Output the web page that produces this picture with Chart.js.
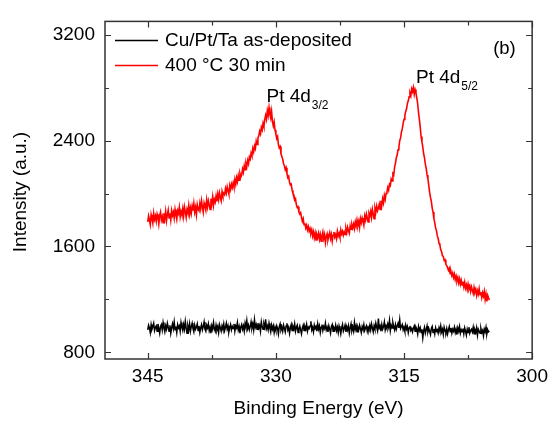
<!DOCTYPE html>
<html>
<head>
<meta charset="utf-8">
<script src="https://cdn.jsdelivr.net/npm/chart.js@4.4.1/dist/chart.umd.min.js"></script>
<style>
  html, body { margin: 0; padding: 0; background: #fff; }
  canvas { display: block; }
</style>
</head>
<body>
<canvas id="xps" width="554" height="423"></canvas>
<script>
// Pt 4d region, sampled every 0.1 eV from 345 eV down to 305 eV
const energyStart = 345;
const energyStep = 0.1;

// Cu/Pt/Ta as-deposited (counts), one row per eV
const asDeposited = [
  970, 1005, 985, 950, 1010, 975, 995, 1020, 965, 990,
  1000, 960, 1015, 980, 945, 995, 1010, 970, 1025, 985,
  955, 1000, 975, 1020, 990, 960, 1005, 945, 985, 1015,
  980, 1030, 970, 995, 950, 1010, 985, 1000, 960, 1025,
  990, 965, 1010, 975, 1035, 985, 945, 1000, 970, 1015,
  960, 995, 1020, 980, 955, 1005, 975, 990, 1015, 965,
  1000, 950, 985, 1010, 970, 995, 1030, 975, 960, 1005,
  985, 1015, 965, 990, 945, 1000, 975, 1025, 980, 960,
  1005, 970, 995, 950, 1010, 985, 960, 1000, 975, 1015,
  965, 990, 1020, 975, 1000, 955, 985, 1010, 970, 995,
  980, 1015, 960, 1000, 985, 1025, 970, 995, 945, 990,
  1010, 975, 1000, 960, 1020, 990, 1040, 980, 1005, 970,
  995, 1030, 985, 1015, 970, 1045, 990, 1010, 975, 1020,
  985, 1005, 960, 1030, 995, 975, 1015, 990, 1050, 980,
  1000, 970, 1020, 985, 955, 1005, 975, 1000, 950, 990,
  965, 1000, 980, 940, 995, 1015, 970, 990, 960, 1005,
  980, 955, 1000, 1020, 970, 990, 945, 985, 1010, 965,
  995, 975, 1015, 960, 990, 1005, 950, 980, 1000, 970,
  940, 985, 1005, 965, 995, 975, 1010, 960, 990, 980,
  1000, 1035, 970, 990, 955, 1005, 980, 995, 960, 1015,
  975, 1000, 950, 990, 1010, 965, 995, 980, 1020, 970,
  990, 955, 1000, 975, 945, 995, 1010, 960, 985, 970,
  1005, 965, 990, 950, 1000, 975, 940, 985, 1010, 960,
  980, 1005, 955, 995, 970, 1000, 945, 985, 1015, 965,
  990, 960, 1025, 975, 1000, 955, 990, 970, 1005, 980,
  950, 995, 975, 1010, 965, 985, 1000, 960, 990, 975,
  1005, 970, 1015, 985, 955, 1000, 975, 1020, 990, 965,
  1055, 985, 1000, 960, 1010, 975, 995, 1030, 970, 1000,
  980, 1015, 990, 1040, 965, 1005, 985, 1025, 995, 970,
  1010, 975, 1000, 1020, 985, 1045, 980, 995, 1010, 970,
  990, 960, 1005, 975, 995, 950, 985, 1000, 965, 980,
  955, 985, 1000, 960, 990, 975, 940, 995, 965, 985,
  950, 975, 910, 965, 990, 945, 970, 1000, 955, 980,
  960, 935, 980, 995, 950, 975, 940, 985, 960, 970,
  945, 985, 960, 1000, 955, 975, 935, 990, 965, 950,
  980, 940, 970, 995, 955, 985, 945, 975, 960, 990,
  950, 975, 935, 985, 960, 995, 945, 970, 955, 980,
  940, 985, 960, 930, 975, 950, 990, 945, 965, 975,
  955, 990, 940, 970, 950, 985, 930, 975, 960, 945,
  980, 950, 965, 925, 975, 955, 990, 940, 970, 955,
  960
];

// Annealed at 400 °C for 30 min (counts), one row per eV
const annealed = [
  1785, 1830, 1800, 1765, 1840, 1810, 1775, 1850, 1805, 1830,
  1790, 1845, 1820, 1770, 1835, 1860, 1800, 1825, 1780, 1850,
  1810, 1865, 1795, 1840, 1875, 1815, 1850, 1800, 1870, 1835,
  1860, 1815, 1880, 1840, 1805, 1870, 1850, 1895, 1825, 1865,
  1840, 1885, 1830, 1900, 1865, 1820, 1880, 1855, 1910, 1845,
  1890, 1850, 1905, 1870, 1925, 1860, 1895, 1840, 1915, 1880,
  1870, 1925, 1885, 1945, 1900, 1860, 1930, 1905, 1875, 1950,
  1900, 1945, 1915, 1880, 1960, 1925, 1975, 1910, 1955, 1935,
  1980, 1940, 1995, 1955, 2005, 1970, 1945, 2015, 1985, 2000,
  1990, 2035, 2005, 2050, 2020, 1995, 2060, 2030, 2070, 2045,
  2080, 2050, 2105, 2070, 2120, 2090, 2135, 2100, 2150, 2125,
  2140, 2185, 2160, 2210, 2180, 2230, 2205, 2250, 2225, 2275,
  2260, 2305, 2285, 2340, 2315, 2360, 2340, 2395, 2370, 2420,
  2435, 2470, 2450, 2500, 2480, 2530, 2505, 2560, 2590, 2560,
  2625, 2590, 2650, 2600, 2570, 2620, 2545, 2510, 2540, 2480,
  2450, 2415, 2430, 2370, 2345, 2355, 2300, 2280, 2260, 2225,
  2210, 2180, 2195, 2150, 2120, 2130, 2085, 2065, 2070, 2025,
  2000, 1990, 1950, 1960, 1915, 1895, 1900, 1860, 1845, 1855,
  1820, 1790, 1810, 1765, 1775, 1740, 1760, 1725, 1750, 1715,
  1735, 1700, 1725, 1680, 1710, 1665, 1700, 1650, 1690, 1670,
  1700, 1655, 1690, 1640, 1680, 1710, 1660, 1690, 1630, 1675,
  1695, 1650, 1680, 1705, 1660, 1690, 1640, 1685, 1710, 1670,
  1690, 1660, 1715, 1680, 1700, 1670, 1725, 1695, 1715, 1685,
  1710, 1690, 1735, 1705, 1745, 1720, 1700, 1755, 1730, 1765,
  1740, 1770, 1735, 1785, 1755, 1800, 1760, 1790, 1745, 1810,
  1780, 1815, 1790, 1760, 1830, 1800, 1845, 1815, 1785, 1850,
  1830, 1865, 1820, 1880, 1845, 1810, 1890, 1860, 1905, 1870,
  1890, 1920, 1880, 1945, 1910, 1960, 1930, 1985, 1955, 2000,
  2010, 2045, 2025, 2070, 2060, 2110, 2095, 2150, 2140, 2200,
  2230, 2270, 2290, 2330, 2350, 2400, 2420, 2465, 2490, 2530,
  2560, 2590, 2620, 2640, 2680, 2700, 2730, 2760, 2740, 2790,
  2770, 2800, 2750, 2785, 2760, 2720, 2680, 2610, 2560, 2500,
  2430, 2390, 2350, 2300, 2270, 2220, 2190, 2140, 2110, 2060,
  2010, 1970, 1940, 1890, 1860, 1810, 1780, 1740, 1720, 1680,
  1660, 1625, 1610, 1575, 1560, 1530, 1525, 1495, 1500, 1465,
  1455, 1440, 1420, 1435, 1395, 1410, 1380, 1400, 1365, 1390,
  1350, 1375, 1340, 1365, 1325, 1355, 1315, 1345, 1310, 1335,
  1295, 1330, 1285, 1310, 1275, 1315, 1280, 1300, 1260, 1295,
  1270, 1245, 1290, 1255, 1275, 1230, 1265, 1240, 1280, 1235,
  1255, 1215, 1250, 1225, 1260, 1200, 1240, 1185, 1230, 1210,
  1195
];

const xTicks = [345, 330, 315, 300];
const xMinorTicks = [337.5, 322.5, 307.5];
const yTicks = [800, 1600, 2400, 3200];
const yMinorTicks = [1200, 2000, 2800];

// Peak labels: [main text, subscript, energy, intensity] at the label baseline start
const peakLabels = [
  ['Pt 4d', '3/2', 331.1, 2690],
  ['Pt 4d', '5/2', 313.6, 2835]
];

const seriesNames = ['Cu/Pt/Ta as-deposited', '400 \u00B0C 30 min'];
const seriesColors = ['#000000', '#ff0000'];
const xTitle = 'Binding Energy (eV)';
const yTitle = 'Intensity (a.u.)';
const panelTag = '(b)';

const toPoints = arr => arr.map((v, i) => ({
  x: Math.round((energyStart - i * energyStep) * 10) / 10,
  y: v
}));

const FONT = '"Liberation Sans", Arial, sans-serif';

// Frame, inward tick marks, axis titles, legend, peak labels and panel tag
const decorations = {
  id: 'decorations',
  afterDatasetsDraw(chart) {
    const { ctx, chartArea: a, scales } = chart;
    const xs = scales.x, ys = scales.y;
    ctx.save();
    ctx.strokeStyle = '#333';
    ctx.lineWidth = 1.5;
    ctx.strokeRect(a.left, a.top, a.right - a.left, a.bottom - a.top);

    ctx.lineWidth = 1.2;
    const tickX = (v, len) => {
      const px = Math.round(xs.getPixelForValue(v)) + 0.5;
      ctx.beginPath();
      ctx.moveTo(px, a.bottom); ctx.lineTo(px, a.bottom - len);
      ctx.moveTo(px, a.top); ctx.lineTo(px, a.top + len);
      ctx.stroke();
    };
    const tickY = (v, len) => {
      const py = Math.round(ys.getPixelForValue(v)) + 0.5;
      ctx.beginPath();
      ctx.moveTo(a.left, py); ctx.lineTo(a.left + len, py);
      ctx.moveTo(a.right, py); ctx.lineTo(a.right - len, py);
      ctx.stroke();
    };
    xTicks.forEach(v => tickX(v, 6));
    xMinorTicks.forEach(v => tickX(v, 4));
    yTicks.forEach(v => tickY(v, 6));
    yMinorTicks.forEach(v => tickY(v, 4));

    ctx.fillStyle = '#000';
    ctx.font = '19px ' + FONT;
    ctx.textBaseline = 'middle';

    // axis titles
    ctx.textAlign = 'center';
    ctx.fillText(xTitle, (a.left + a.right) / 2, 409);
    ctx.save();
    ctx.translate(21, 192);
    ctx.rotate(-Math.PI / 2);
    ctx.fillText(yTitle, 0, 0);
    ctx.restore();
    ctx.textAlign = 'left';

    // legend
    chart.data.datasets.forEach((ds, i) => {
      const y = a.top + 19 + i * 25;
      ctx.strokeStyle = ds.borderColor;
      ctx.lineWidth = 1.5;
      ctx.beginPath();
      ctx.moveTo(a.left + 10, y); ctx.lineTo(a.left + 53, y);
      ctx.stroke();
      ctx.fillText(ds.label, a.left + 60, y);
    });

    // panel tag
    ctx.font = '18.5px ' + FONT;
    ctx.fillText(panelTag, a.right - 39, a.top + 28);

    // peak labels
    ctx.textBaseline = 'alphabetic';
    peakLabels.forEach(([main, sub, e, v]) => {
      const px = xs.getPixelForValue(e);
      const py = ys.getPixelForValue(v);
      ctx.font = '19px ' + FONT;
      ctx.fillText(main, px, py);
      const w = ctx.measureText(main).width;
      ctx.font = '12px ' + FONT;
      ctx.fillText(sub, px + w + 1, py + 7);
    });
    ctx.restore();
  }
};

new Chart(document.getElementById('xps'), {
  type: 'line',
  data: {
    datasets: [
      {
        label: seriesNames[0],
        data: toPoints(asDeposited),
        borderColor: seriesColors[0],
        borderWidth: 1.5,
        pointRadius: 0,
        tension: 0
      },
      {
        label: seriesNames[1],
        data: toPoints(annealed),
        borderColor: seriesColors[1],
        borderWidth: 1.6,
        pointRadius: 0,
        tension: 0
      }
    ]
  },
  options: {
    responsive: false,
    animation: false,
    layout: { padding: { top: 9, right: 17, left: 0, bottom: 0 } },
    plugins: { legend: { display: false }, tooltip: { enabled: false } },
    scales: {
      x: {
        type: 'linear',
        reverse: true,
        min: 300,
        max: 350,
        grid: { display: false, drawTicks: false },
        border: { display: false },
        afterBuildTicks: s => { s.ticks = xTicks.map(v => ({ value: v })); },
        afterFit: s => { s.height = 64; },
        ticks: {
          color: '#000',
          font: { family: FONT, size: 19 },
          padding: 6,
          maxRotation: 0,
          callback: v => String(v)
        }
      },
      y: {
        type: 'linear',
        min: 750,
        max: 3300,
        grid: { display: false, drawTicks: false },
        border: { display: false },
        afterBuildTicks: s => { s.ticks = yTicks.map(v => ({ value: v })); },
        afterFit: s => { s.width = 105; },
        ticks: {
          color: '#000',
          font: { family: FONT, size: 19 },
          padding: 10,
          callback: v => String(v)
        }
      }
    }
  },
  plugins: [decorations]
});
</script>
</body>
</html>
